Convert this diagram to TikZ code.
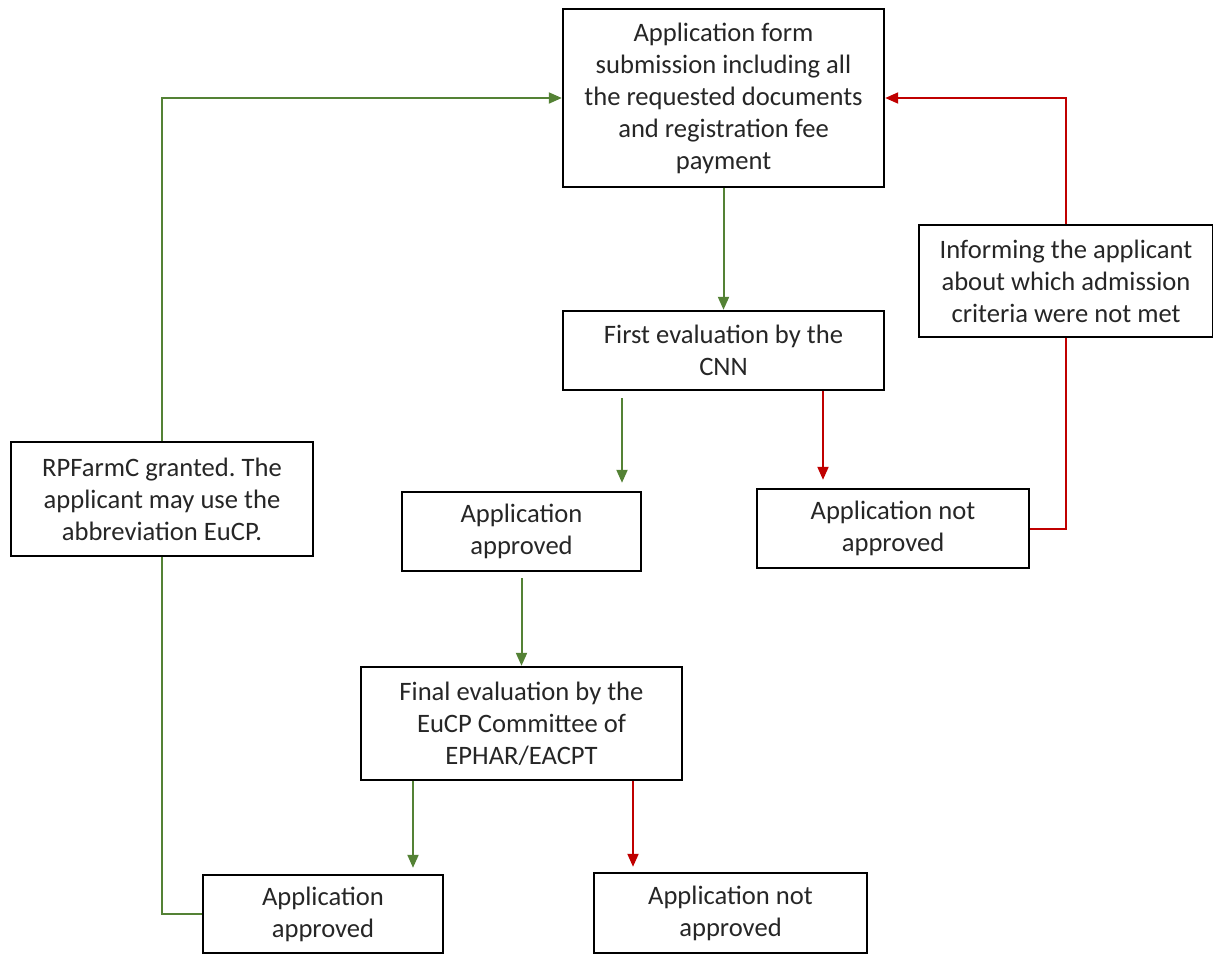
\documentclass[tikz,border=0pt]{standalone}
\usepackage{fontspec}
\setmainfont{Carlito}
\usepackage{tikz}
\usetikzlibrary{arrows.meta, calc}
\usepackage{xcolor}
\frenchspacing

\definecolor{okgreen}{RGB}{84,130,53}
\definecolor{nored}{RGB}{192,0,0}

\tikzset{
    box/.style={draw, line width=1.2pt, rectangle, align=center, inner sep=0pt,
        text=black!85, font=\fontsize{13.3}{16}\selectfont},
    go/.style={okgreen, line width=1pt, -{Triangle[length=6.5pt,width=5.5pt]}},
    nogo/.style={nored, line width=1pt, -{Triangle[length=6.5pt,width=5.5pt]}}
}

\begin{document}
\begin{tikzpicture}[x=0.5pt, y=-0.5pt]

    \useasboundingbox (0,0) rectangle (1213,954);

    %nodes
    \node[box, minimum width=160.5pt, minimum height=89pt] (submit) at (723.5,98)
        {Application form\\submission including all\\the requested documents\\and registration fee\\payment};
    \node[box, minimum width=160.5pt, minimum height=39.5pt] (first) at (723.5,350.5)
        {First evaluation by the\\CNN};
    \node[box, minimum width=147pt, minimum height=56pt] (inform) at (1066,281)
        {Informing the applicant\\about which admission\\criteria were not met};
    \node[box, minimum width=119.5pt, minimum height=39.5pt] (okA) at (521.5,531.5)
        {Application\\approved};
    \node[box, minimum width=136pt, minimum height=39.5pt] (noA) at (893,528.5)
        {Application not\\approved};
    \node[box, minimum width=151pt, minimum height=57pt] (granted) at (162,499)
        {RPFarmC granted. The\\applicant may use the\\abbreviation EuCP.};
    \node[box, minimum width=160.5pt, minimum height=56.5pt] (final) at (521.5,723.5)
        {Final evaluation by the\\EuCP Committee of\\EPHAR/EACPT};
    \node[box, minimum width=120pt, minimum height=39pt] (okB) at (323,914)
        {Application\\approved};
    \node[box, minimum width=136.5pt, minimum height=40pt] (noB) at (730.5,913)
        {Application not\\approved};

    %arrows down
    \draw[go] (submit) -- (first);
    \draw[go] ($(first.south)+(-101.5,7)$) -- ($(okA.north)+(100.5,-8)$);
    \draw[nogo] ($(first.south)+(99.5,0)$) -- ($(noA.north)+(-70,-8)$);
    \draw[go] ($(okA.south)+(0,6)$) -- (final);
    \draw[go] ($(final.south)+(-108.5,0)$) -- ($(okB.north)+(90,-6)$);
    \draw[nogo] ($(final.south)+(111.5,0)$) -- ($(noB.north)+(-97.5,-5)$);

    %loops back to the form
    \draw[nored, line width=1pt] (noA.east) -| (inform.south);
    \draw[nogo] (inform.north) |- (submit.east);
    \draw[okgreen, line width=1pt] (okB.west) -| (granted.south);
    \draw[go] (granted.north) |- (submit.west);

\end{tikzpicture}
\end{document}
